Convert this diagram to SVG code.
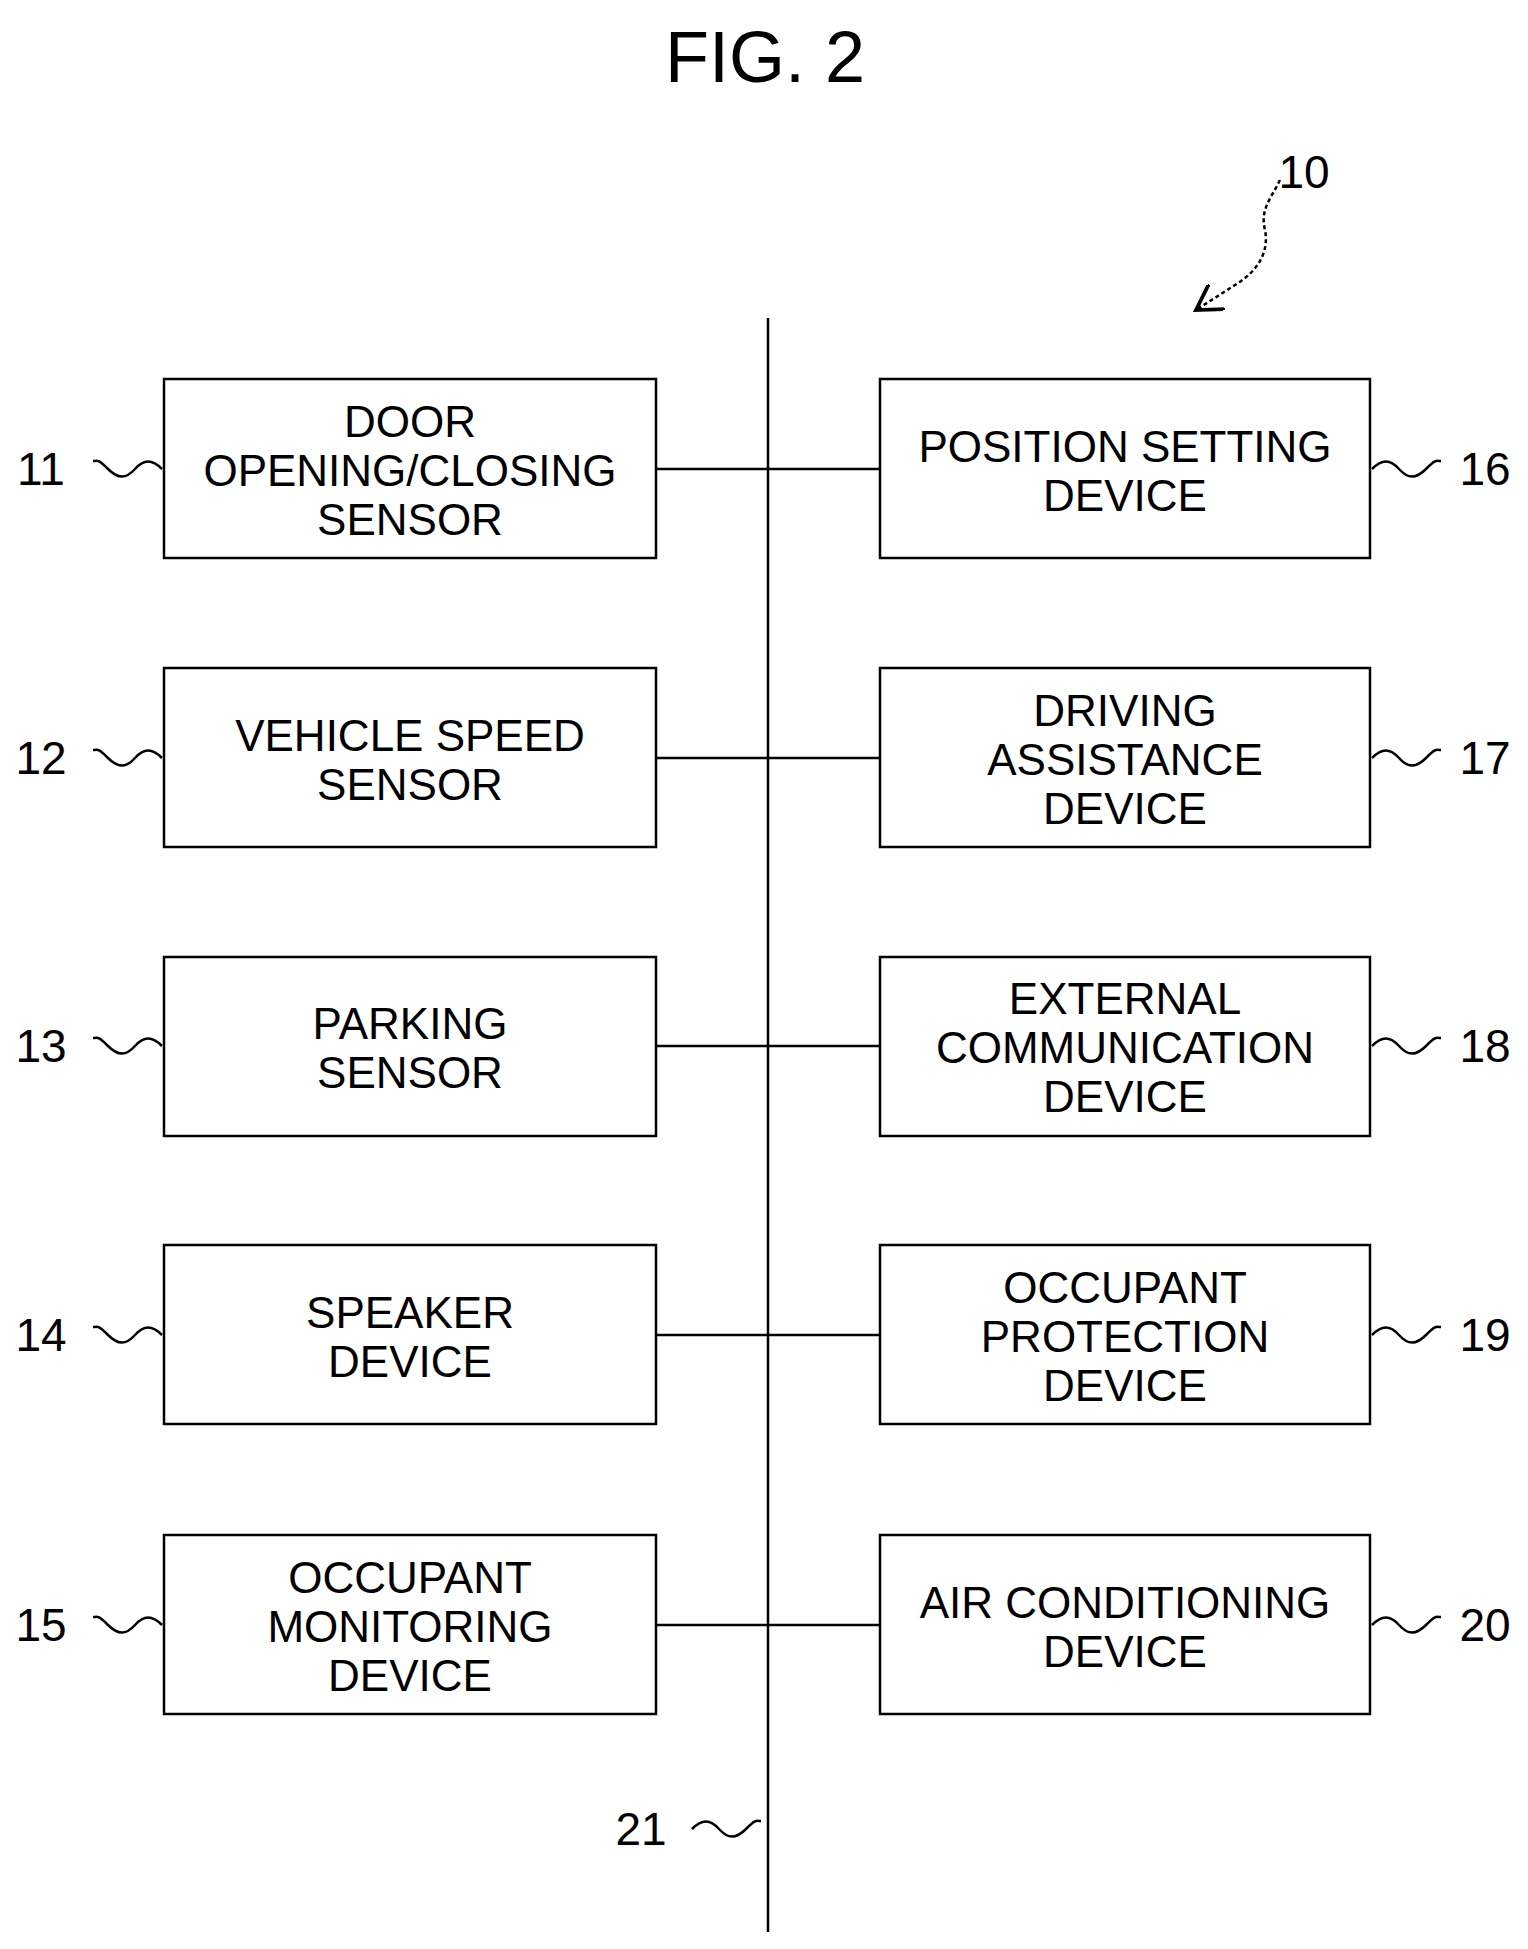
<svg xmlns="http://www.w3.org/2000/svg" width="1528" height="1949" viewBox="0 0 1528 1949">
<style>
.b{fill:#fff;stroke:#000;stroke-width:2.5}
.l{stroke:#000;stroke-width:2.5;fill:none}
text{font-family:"Liberation Sans",Arial,sans-serif;font-size:44px;text-anchor:middle;fill:#000}
.n{font-size:46px}
</style>
<defs>
<path id="tl" d="M0,0 c10,-10 18,-10 27,0 s17,10 27,0 s10,-8 15,-8" class="l"/>
<marker id="ah" markerWidth="12" markerHeight="12" refX="10" refY="6" orient="auto"><path d="M0,0 L10,6 L0,12" fill="none" stroke="#000" stroke-width="1.5"/></marker>
</defs>
<rect width="1528" height="1949" fill="#fff"/>
<text x="765" y="82" style="font-size:72px">FIG. 2</text>
<text x="1304" y="188" class="n">10</text>
<path d="M1280,180 c-10,20 -20,30 -15,50 c4,20 -5,40 -30,55 L1196,310" class="l" stroke-dasharray="4,3" marker-end="url(#ah)"/>
<g id="connectors">
<line x1="768" y1="318" x2="768" y2="1932" class="l"/>
<line x1="656" y1="469" x2="880" y2="469" class="l"/>
<line x1="656" y1="758" x2="880" y2="758" class="l"/>
<line x1="656" y1="1046" x2="880" y2="1046" class="l"/>
<line x1="656" y1="1335" x2="880" y2="1335" class="l"/>
<line x1="656" y1="1625" x2="880" y2="1625" class="l"/>
</g>
<g id="n11"><rect x="164" y="379" width="492" height="179" class="b"/><text x="410" y="437">DOOR</text><text x="410" y="486">OPENING/CLOSING</text><text x="410" y="535">SENSOR</text><text x="41" y="485" class="n">11</text><use href="#tl" transform="translate(162,469) scale(-1,1)"/></g>
<g id="n12"><rect x="164" y="668" width="492" height="179" class="b"/><text x="410" y="751">VEHICLE SPEED</text><text x="410" y="800">SENSOR</text><text x="41" y="774" class="n">12</text><use href="#tl" transform="translate(162,758) scale(-1,1)"/></g>
<g id="n13"><rect x="164" y="957" width="492" height="179" class="b"/><text x="410" y="1039">PARKING</text><text x="410" y="1088">SENSOR</text><text x="41" y="1062" class="n">13</text><use href="#tl" transform="translate(162,1046) scale(-1,1)"/></g>
<g id="n14"><rect x="164" y="1245" width="492" height="179" class="b"/><text x="410" y="1328">SPEAKER</text><text x="410" y="1377">DEVICE</text><text x="41" y="1351" class="n">14</text><use href="#tl" transform="translate(162,1335) scale(-1,1)"/></g>
<g id="n15"><rect x="164" y="1535" width="492" height="179" class="b"/><text x="410" y="1593">OCCUPANT</text><text x="410" y="1642">MONITORING</text><text x="410" y="1691">DEVICE</text><text x="41" y="1641" class="n">15</text><use href="#tl" transform="translate(162,1625) scale(-1,1)"/></g>
<g id="n16"><rect x="880" y="379" width="490" height="179" class="b"/><text x="1125" y="462">POSITION SETTING</text><text x="1125" y="511">DEVICE</text><text x="1485" y="485" class="n">16</text><use href="#tl" transform="translate(1372,469)"/></g>
<g id="n17"><rect x="880" y="668" width="490" height="179" class="b"/><text x="1125" y="726">DRIVING</text><text x="1125" y="775">ASSISTANCE</text><text x="1125" y="824">DEVICE</text><text x="1485" y="774" class="n">17</text><use href="#tl" transform="translate(1372,758)"/></g>
<g id="n18"><rect x="880" y="957" width="490" height="179" class="b"/><text x="1125" y="1014">EXTERNAL</text><text x="1125" y="1063">COMMUNICATION</text><text x="1125" y="1112">DEVICE</text><text x="1485" y="1062" class="n">18</text><use href="#tl" transform="translate(1372,1046)"/></g>
<g id="n19"><rect x="880" y="1245" width="490" height="179" class="b"/><text x="1125" y="1303">OCCUPANT</text><text x="1125" y="1352">PROTECTION</text><text x="1125" y="1401">DEVICE</text><text x="1485" y="1351" class="n">19</text><use href="#tl" transform="translate(1372,1335)"/></g>
<g id="n20"><rect x="880" y="1535" width="490" height="179" class="b"/><text x="1125" y="1618">AIR CONDITIONING</text><text x="1125" y="1667">DEVICE</text><text x="1485" y="1641" class="n">20</text><use href="#tl" transform="translate(1372,1625)"/></g>
<g id="n21"><text x="641" y="1845" class="n">21</text><use href="#tl" transform="translate(692,1829)"/></g>
</svg>
